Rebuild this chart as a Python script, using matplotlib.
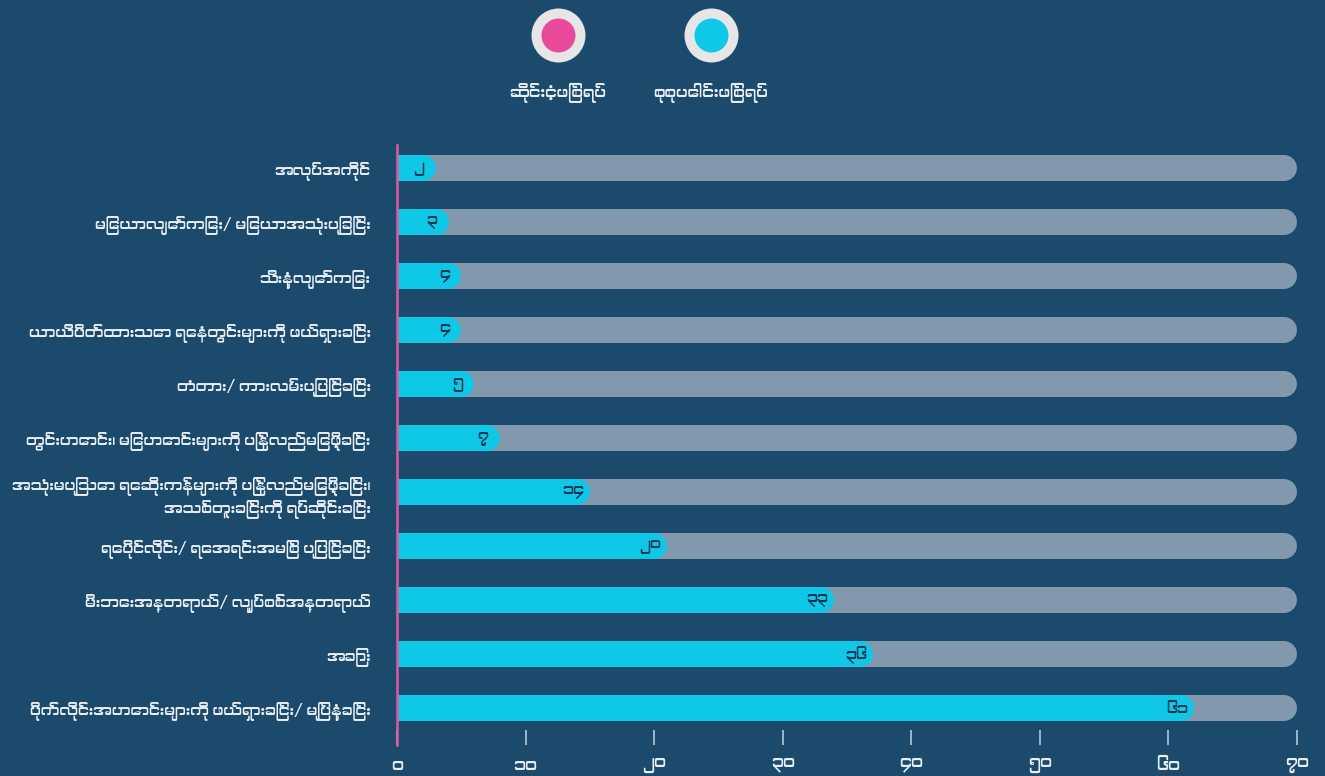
import matplotlib
matplotlib.use("Agg")
import matplotlib.pyplot as plt
from matplotlib import font_manager

# data (Burmese numerals)
categories = [
    "အလုပ်အကိုင်",
    "မြေယာလျော်ကြေး/ မြေယာအသုံးပြုခြင်း",
    "သီးနှံလျော်ကြေး",
    "ယာယီပိတ်ထားသော ရေနံတွင်းများကို ဖယ်ရှားခြင်း",
    "တံတား/ ကားလမ်းပြုပြင်ခြင်း",
    "တွင်းဟောင်း၊ မြေဟောင်းများကို ပြန်လည်မြေဖို့ခြင်း",
    "အသုံးမပြုသော ရေဆိုးကန်များကို ပြန်လည်မြေဖို့ခြင်း၊\nအသစ်တူးခြင်းကို ရပ်ဆိုင်းခြင်း",
    "ရေပိုင်လိုင်း/ ရေအရင်းအမြစ် ပြုပြင်ခြင်း",
    "မီးဘေးအန္တရာယ်/ လျှပ်စစ်အန္တရာယ်",
    "အခြား",
    "ပိုက်လိုင်းအဟောင်းများကို ဖယ်ရှားခြင်း/ မြုပ်နှံခြင်း",
]
total = [2, 3, 4, 4, 5, 7, 14, 20, 33, 36, 61]
value_labels = ["၂", "၃", "၄", "၄", "၅", "၇", "၁၄", "၂၀", "၃၃", "၃၆", "၆၁"]
xticks = [0, 10, 20, 30, 40, 50, 60, 70]
xtick_labels = ["၀", "၁၀", "၂၀", "၃၀", "၄၀", "၅၀", "၆၀", "၇၀"]
legend_names = ["ဆိုင်းငံ့ဖြစ်ရပ်", "စုစုပေါင်းဖြစ်ရပ်"]
legend_colors = ["#e8499b", "#0fc8e8"]

# find a font that has Myanmar glyphs, if any is installed
myanmar_fonts = []
for f in font_manager.fontManager.ttflist:
    if "myanmar" in f.name.lower() or "padauk" in f.name.lower():
        if f.name not in myanmar_fonts:
            myanmar_fonts.append(f.name)
families = myanmar_fonts + ["Noto Sans", "DejaVu Sans"]
plt.rcParams["font.family"] = families

bg = "#1b4a6d"
track = "#8299ad"
cyan = "#0fc8e8"
pink = "#e05aa0"
text_col = "#e9eef3"

fig = plt.figure(figsize=(13.25, 7.76), dpi=100, facecolor=bg)
ax = fig.add_axes([397 / 1325, 31 / 776, 900 / 1325, 600 / 776])
ax.set_facecolor(bg)

rows = list(range(len(categories)))
bar_lw = 26 * 72 / 100  # 26 px thick bars
cap = 13 / (900 / 70)   # rounded cap radius in data units

for i in rows:
    ax.plot([0, 70 - cap], [i, i], color=track, lw=bar_lw,
            solid_capstyle="round", zorder=1)
    ax.plot([0, total[i]], [i, i], color=cyan, lw=bar_lw,
            solid_capstyle="round", zorder=2)
    ax.text(total[i] - 0.3, i + 0.02, value_labels[i], ha="center", va="center",
            fontsize=11, color="#1a3550", zorder=3)

ax.set_xlim(0, 70)
ax.set_ylim((745 - 168) / 54, (145 - 168) / 54)

ax.axvline(0, color=pink, lw=1.8, clip_on=False, zorder=4)

for s in ax.spines.values():
    s.set_visible(False)

ax.set_yticks(rows)
ax.set_yticklabels(categories, fontsize=10.8, color=text_col, linespacing=1.3)
ax.tick_params(axis="y", length=0, pad=19)

ax.set_xticks(xticks)
ax.set_xticklabels(xtick_labels, fontsize=12, color=text_col)
ax.tick_params(axis="x", direction="in", length=11, width=1.2,
               color="#b9c6d2", pad=9)

# legend at the top, drawn in figure coordinates
legend_x = [558 / 1325, 711 / 1325]
legend_y = 1 - 35 / 776
for lx, name, col in zip(legend_x, legend_names, legend_colors):
    ax.scatter([lx], [legend_y], s=(54 * 0.72) ** 2, color="#e6e6e6",
               transform=fig.transFigure, clip_on=False, zorder=10, linewidths=0)
    ax.scatter([lx], [legend_y], s=(34 * 0.72) ** 2, color=col,
               transform=fig.transFigure, clip_on=False, zorder=11, linewidths=0)
    fig.text(lx, 1 - 93 / 776, name, ha="center", va="center",
             fontsize=11.5, color=text_col)

fig.savefig("out.png", dpi=100, facecolor=bg)
